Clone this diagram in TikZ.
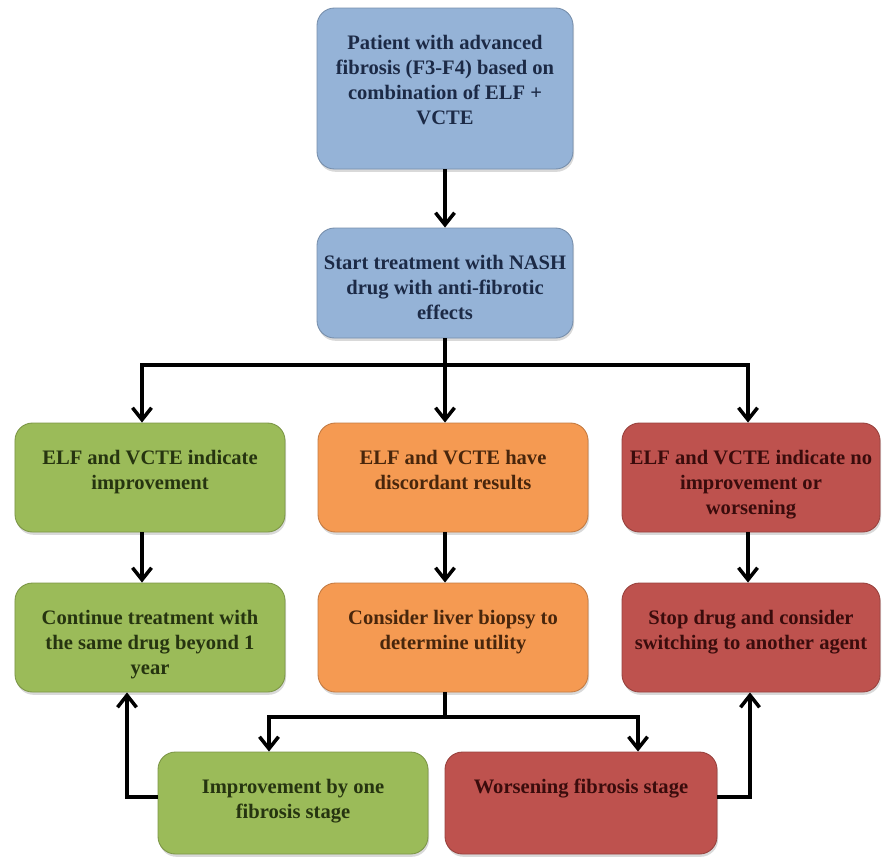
\documentclass[tikz,border=0pt]{standalone}
\usepackage{fontspec}
\setmainfont{Liberation Serif}
\usetikzlibrary{arrows.meta,shadows}

\definecolor{boxblue}{RGB}{149,179,215}
\definecolor{boxgreen}{RGB}{155,187,89}
\definecolor{boxorange}{RGB}{245,154,82}
\definecolor{boxred}{RGB}{190,82,78}
\definecolor{txtblue}{RGB}{28,42,70}
\definecolor{txtgreen}{RGB}{38,52,16}
\definecolor{txtorange}{RGB}{72,38,12}
\definecolor{txtred}{RGB}{58,12,12}

\tikzset{
    box/.style={rounded corners=0.35cm, draw=#1!80!black, line width=0.5pt, fill=#1, inner sep=0pt,
        drop shadow={shadow xshift=0.6pt, shadow yshift=-1.6pt, opacity=0.3}},
    boxtext/.style={font=\fontsize{11.7}{14.2}\selectfont\bfseries, align=center, inner sep=0pt, anchor=north, text=#1},
    arr/.style={line width=2pt, -{Straight Barb[length=2.4mm,width=3.8mm]}}
}

\begin{document}
\begin{tikzpicture}[x=0.2mm,y=-0.2mm]
        \useasboundingbox (0,0) rectangle (885,858);

        % Top boxes
        \node[box=boxblue, minimum width=5.12cm, minimum height=3.22cm] (patient) at (445,88.5) {};
        \node[boxtext=txtblue] (patienttext) at ([yshift=-0.54cm]patient.north)
            {Patient with advanced\\fibrosis (F3-F4) based on\\combination of ELF +\\VCTE};
        \node[box=boxblue, minimum width=5.12cm, minimum height=2.2cm] (start) at (445,283) {};
        \node[boxtext=txtblue] (starttext) at ([yshift=-0.54cm]start.north)
            {Start treatment with NASH\\drug with anti-fibrotic\\effects};

        % Results
        \node[box=boxgreen, minimum width=5.4cm, minimum height=2.18cm] (improve) at (150,477.5) {};
        \node[boxtext=txtgreen] (improvetext) at ([yshift=-0.54cm]improve.north)
            {ELF and VCTE indicate\\improvement};
        \node[box=boxorange, minimum width=5.4cm, minimum height=2.18cm] (discord) at (453,477.5) {};
        \node[boxtext=txtorange] (discordtext) at ([yshift=-0.54cm]discord.north)
            {ELF and VCTE have\\discordant results};
        \node[box=boxred, minimum width=5.16cm, minimum height=2.18cm] (worse) at (751,477.5) {};
        \node[boxtext=txtred] (worsetext) at ([yshift=-0.54cm]worse.north)
            {ELF and VCTE indicate no\\improvement or\\worsening};

        % Decisions
        \node[box=boxgreen, minimum width=5.4cm, minimum height=2.18cm] (continue) at (150,637.5) {};
        \node[boxtext=txtgreen] (continuetext) at ([yshift=-0.54cm]continue.north)
            {Continue treatment with\\the same drug beyond 1\\year};
        \node[box=boxorange, minimum width=5.4cm, minimum height=2.18cm] (biopsy) at (453,637.5) {};
        \node[boxtext=txtorange] (biopsytext) at ([yshift=-0.54cm]biopsy.north)
            {Consider liver biopsy to\\determine utility};
        \node[box=boxred, minimum width=5.16cm, minimum height=2.18cm] (stop) at (751,637.5) {};
        \node[boxtext=txtred] (stoptext) at ([yshift=-0.54cm]stop.north)
            {Stop drug and consider\\switching to another agent};

        % Biopsy outcomes
        \node[box=boxgreen, minimum width=5.4cm, minimum height=2.04cm] (onestage) at (293,803) {};
        \node[boxtext=txtgreen] (onestagetext) at ([yshift=-0.54cm]onestage.north)
            {Improvement by one\\fibrosis stage};
        \node[box=boxred, minimum width=5.44cm, minimum height=2.04cm] (worsestage) at (581,803) {};
        \node[boxtext=txtred] (worsestagetext) at ([yshift=-0.54cm]worsestage.north)
            {Worsening fibrosis stage};

        % Branch points
        \coordinate (split) at (445,365);
        \coordinate (splitlow) at (445,717);

        % Arrows
        \draw[arr] (patient) -- (start);
        \draw[arr] (start.south) -- (split) -| ([xshift=-0.16cm]improve.north);
        \draw[arr] (start.south) -- (split |- discord.north);
        \draw[arr] (start.south) -- (split) -| ([xshift=-0.06cm]worse.north);
        \draw[arr] ([xshift=-0.16cm]improve.south) -- ([xshift=-0.16cm]continue.north);
        \draw[arr] (discord.south -| split) -- (biopsy.north -| split);
        \draw[arr] ([xshift=-0.06cm]worse.south) -- ([xshift=-0.06cm]stop.north);
        \draw[arr] (biopsy.south -| splitlow) -- (splitlow) -| ([xshift=-0.48cm]onestage.north);
        \draw[arr] (biopsy.south -| splitlow) -- (splitlow) -| ([xshift=1.14cm]worsestage.north);
        \draw[arr] ([yshift=0.12cm]onestage.west) -| ([xshift=-0.46cm]continue.south);
        \draw[arr] ([yshift=0.12cm]worsestage.east) -| ([xshift=-0.02cm]stop.south);
\end{tikzpicture}
\end{document}
